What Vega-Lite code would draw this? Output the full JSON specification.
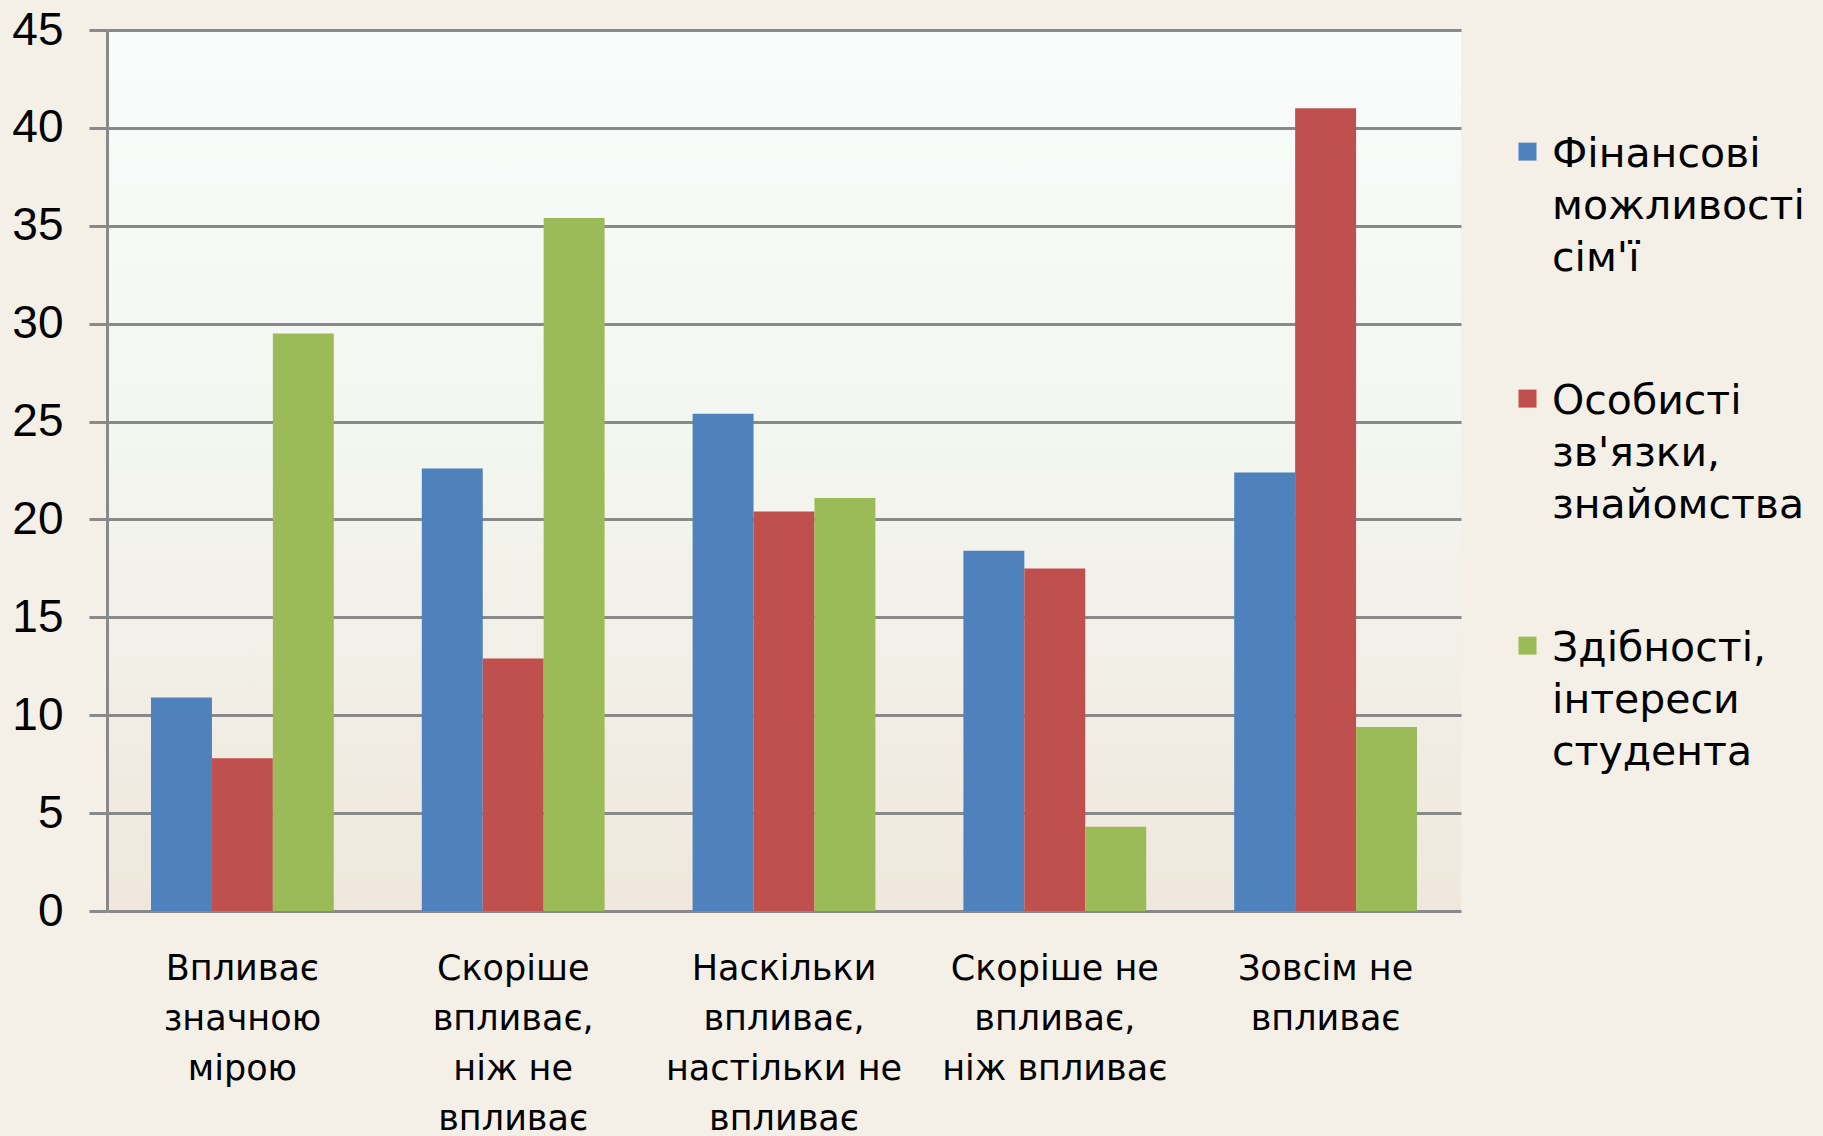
{
  "$schema": "https://vega.github.io/schema/vega-lite/v6.json",
  "width": 1354,
  "height": 881,
  "autosize": {"type": "none"},
  "padding": {"left": 107, "top": 30, "right": 362, "bottom": 225},
  "background": "#f4f0e8",
  "config": {
    "view": {
      "stroke": null,
      "fill": {"gradient": "linear", "x1": 0, "y1": 0, "x2": 0, "y2": 1, "stops": [{"offset": 0, "color": "#f8fcfb"}, {"offset": 0.5, "color": "#f3f5ef"}, {"offset": 1, "color": "#efe7dc"}]}
    },
    "style": {"guide-label": {"lineHeight": 52}}
  },
  "data": {
    "values": [
      {"category": "Впливає значною мірою", "series": "Фінансові можливості сім'ї", "value": 10.9},
      {"category": "Впливає значною мірою", "series": "Особисті зв'язки, знайомства", "value": 7.8},
      {"category": "Впливає значною мірою", "series": "Здібності, інтереси студента", "value": 29.5},
      {"category": "Скоріше впливає, ніж не впливає", "series": "Фінансові можливості сім'ї", "value": 22.6},
      {"category": "Скоріше впливає, ніж не впливає", "series": "Особисті зв'язки, знайомства", "value": 12.9},
      {"category": "Скоріше впливає, ніж не впливає", "series": "Здібності, інтереси студента", "value": 35.4},
      {"category": "Наскільки впливає, настільки не впливає", "series": "Фінансові можливості сім'ї", "value": 25.4},
      {"category": "Наскільки впливає, настільки не впливає", "series": "Особисті зв'язки, знайомства", "value": 20.4},
      {"category": "Наскільки впливає, настільки не впливає", "series": "Здібності, інтереси студента", "value": 21.1},
      {"category": "Скоріше не впливає, ніж впливає", "series": "Фінансові можливості сім'ї", "value": 18.4},
      {"category": "Скоріше не впливає, ніж впливає", "series": "Особисті зв'язки, знайомства", "value": 17.5},
      {"category": "Скоріше не впливає, ніж впливає", "series": "Здібності, інтереси студента", "value": 4.3},
      {"category": "Зовсім не впливає", "series": "Фінансові можливості сім'ї", "value": 22.4},
      {"category": "Зовсім не впливає", "series": "Особисті зв'язки, знайомства", "value": 41.0},
      {"category": "Зовсім не впливає", "series": "Здібності, інтереси студента", "value": 9.4}
    ]
  },
  "mark": {"type": "bar"},
  "encoding": {
    "x": {
      "field": "category",
      "type": "nominal",
      "sort": null,
      "scale": {"paddingInner": 0.325, "paddingOuter": 0.1625},
      "axis": {
        "title": null,
        "domain": false,
        "ticks": false,
        "tickSize": 0,
        "grid": false,
        "labelAngle": 0,
        "labelPadding": 40,
        "labelFont": "DejaVu Sans",
        "labelFontSize": 35,
        "labelColor": "#000000",
        "labelLineHeight": 50,
        "labelLimit": 400,
        "labelBaseline": "top",
        "labelExpr": "datum.value == 'Впливає значною мірою' ? ['Впливає', 'значною', 'мірою'] : datum.value == 'Скоріше впливає, ніж не впливає' ? ['Скоріше', 'впливає,', 'ніж не', 'впливає'] : datum.value == 'Наскільки впливає, настільки не впливає' ? ['Наскільки', 'впливає,', 'настільки не', 'впливає'] : datum.value == 'Скоріше не впливає, ніж впливає' ? ['Скоріше не', 'впливає,', 'ніж впливає'] : ['Зовсім не', 'впливає']"
      }
    },
    "xOffset": {"field": "series", "type": "nominal", "sort": null},
    "y": {
      "field": "value",
      "type": "quantitative",
      "scale": {"domain": [0, 45], "nice": false},
      "axis": {
        "title": null,
        "values": [0, 5, 10, 15, 20, 25, 30, 35, 40, 45],
        "domain": true,
        "domainColor": "#898989",
        "domainWidth": 3,
        "ticks": true,
        "tickSize": 18,
        "tickColor": "#898989",
        "tickWidth": 3,
        "grid": true,
        "gridColor": "#898989",
        "gridWidth": 3,
        "gridOpacity": 1,
        "labelPadding": 26,
        "labelFont": "Liberation Sans",
        "labelFontSize": 46,
        "labelColor": "#000000"
      }
    },
    "color": {
      "field": "series",
      "type": "nominal",
      "scale": {
        "domain": ["Фінансові можливості сім'ї", "Особисті зв'язки, знайомства", "Здібності, інтереси студента"],
        "range": ["#4f81bd", "#c0504d", "#9bbb59"]
      },
      "legend": {
        "title": null,
        "orient": "none",
        "legendX": 1400,
        "legendY": 84,
        "padding": 0,
        "labelFont": "DejaVu Sans",
        "labelFontSize": 41,
        "labelBaseline": "top",
        "labelLimit": 400,
        "labelOffset": 4,
        "labelColor": "#000000",
        "rowPadding": 82,
        "symbolType": "M-1,0.9H1V2.9H-1Z",
        "symbolSize": 324,
        "symbolStrokeWidth": 0,
        "symbolOpacity": 1,
        "labelExpr": "datum.value == \"Фінансові можливості сім'ї\" ? ['Фінансові', 'можливості', \"сім'ї\"] : datum.value == \"Особисті зв'язки, знайомства\" ? ['Особисті', \"зв'язки,\", 'знайомства'] : ['Здібності,', 'інтереси', 'студента']"
      }
    }
  }
}
